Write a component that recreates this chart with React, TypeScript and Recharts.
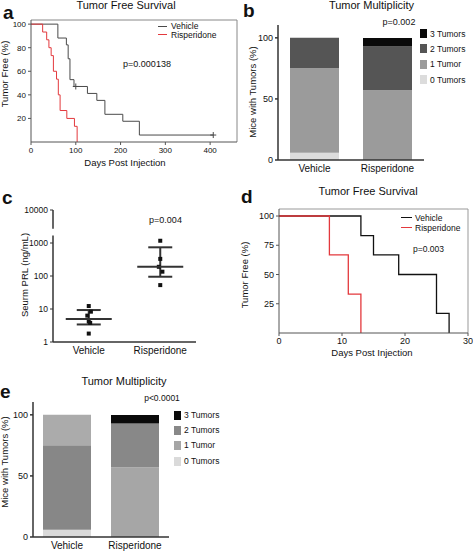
import React from 'react';
import {
  ComposedChart, BarChart, Bar, Cell, Line, Scatter, ErrorBar,
  XAxis, YAxis, ReferenceLine,
} from 'recharts';

const FONT = '"Liberation Sans", Arial, Helvetica, sans-serif';
const INK = '#111';
const RED = '#e3393d';

// --- panel a: tumor free survival (days) ---
const A_VEH_DAYS = [0, 60, 79, 83, 87, 96, 100, 126, 147, 165, 205, 242, 407];
const A_VEH_PCT = [100, 88.2, 82.4, 70.6, 52.9, 47.1, 47.1, 41.2, 35.3, 23.5, 17.6, 5.9, 5.9];
const A_VEH_CENSORED = [100, 407];
const A_RIS_DAYS = [0, 26, 35, 40, 45, 50, 57, 61, 65, 80, 97, 103];
const A_RIS_PCT = [100, 93.3, 86.7, 80, 73.3, 60, 53.3, 40, 26.7, 20, 13.3, 0];
const A_X_TICKS = [0, 100, 200, 300, 400];
const A_Y_TICKS = [20, 40, 60, 80, 100];

// --- panels b / e: tumor multiplicity (% of mice) ---
const GROUPS = ['Vehicle', 'Risperidone'];
const TUMORS_0 = [5.9, 0];
const TUMORS_1 = [69.1, 57.1];
const TUMORS_2 = [25, 35.7];
const TUMORS_3 = [0, 7.1];
const MULTI_TICKS = [0, 50, 100];

// --- panel c: serum PRL ---
const C_VEH_PRL = [12.3, 8.3, 6.3, 4.2, 3.8, 1.8];
const C_VEH_JIT = [1.0, 1.03, 0.98, 1.0, 1.02, 1.0];
const C_RIS_PRL = [1170, 330, 190, 135, 53];
const C_RIS_JIT = [1.0, 1.0, 0.98, 1.03, 1.0];
const C_MEAN = [5, 190];
const C_LOW = [3.4, 95];
const C_HIGH = [9.3, 740];
const C_Y_TICKS = [1, 10, 100, 1000, 10000];

// --- panel d: tumor free survival (days, short study) ---
const D_VEH_DAYS = [0, 13, 15, 19, 25, 27];
const D_VEH_PCT = [100, 83.3, 66.7, 50, 16.7, 0];
const D_RIS_DAYS = [0, 8, 11, 13];
const D_RIS_PCT = [100, 66.7, 33.3, 0];
const D_X_TICKS = [0, 10, 20, 30];
const D_Y_TICKS = [25, 50, 75, 100];

function Txt({ x, y, children, size = 10, align = 'center', weight = 400, rotate = false }: any) {
  const tx = align === 'center' ? '-50%' : align === 'right' ? '-100%' : '0';
  return (
    <div
      style={{
        position: 'absolute', left: x, top: y, whiteSpace: 'nowrap', fontSize: size,
        fontWeight: weight, color: '#111', lineHeight: 1,
        transform: `translate(${tx}, -50%)${rotate ? ' rotate(-90deg)' : ''}`,
      }}
    >
      {children}
    </div>
  );
}

function Pos({ x, y, children }: any) {
  return <div style={{ position: 'absolute', left: x, top: y }}>{children}</div>;
}

function censorDot(color: string) {
  return (p: any) => {
    if (!p.payload || !p.payload.c) return <g key={p.index} />;
    return (
      <path key={p.index} d={`M${p.cx - 3},${p.cy}h6M${p.cx},${p.cy - 3}v6`} stroke={color} strokeWidth={1} />
    );
  };
}

function SurvivalA() {
  const veh = A_VEH_DAYS.map((t, i) => ({ t, s: A_VEH_PCT[i], c: A_VEH_CENSORED.includes(t) }));
  const ris = A_RIS_DAYS.map((t, i) => ({ t, s: A_RIS_PCT[i] }));
  return (
    <ComposedChart width={240} height={175} margin={{ top: 20, right: 3, bottom: 0, left: 0 }}>
      <XAxis dataKey="t" type="number" domain={[0, 460]} ticks={A_X_TICKS} height={33} tickSize={3}
        tick={{ fontSize: 8, fill: INK }} stroke="#555" allowDataOverflow />
      <YAxis type="number" domain={[0, 103.5]} ticks={A_Y_TICKS} width={31} tickSize={3}
        tick={{ fontSize: 8, fill: INK }} stroke="#555" allowDataOverflow />
      <ReferenceLine y={103.5} stroke="#888" />
      <ReferenceLine x={460} stroke="#888" />
      <Line data={veh} dataKey="s" type="stepAfter" stroke="#4a4a4a" strokeWidth={1}
        dot={censorDot('#4a4a4a')} activeDot={false} isAnimationActive={false} />
      <Line data={ris} dataKey="s" type="stepAfter" stroke={RED} strokeWidth={1}
        dot={false} activeDot={false} isAnimationActive={false} />
    </ComposedChart>
  );
}

function SurvivalD() {
  const veh = D_VEH_DAYS.map((t, i) => ({ t, s: D_VEH_PCT[i] }));
  const ris = D_RIS_DAYS.map((t, i) => ({ t, s: D_RIS_PCT[i] }));
  return (
    <ComposedChart width={233} height={160} margin={{ top: 14, right: 5, bottom: 0, left: 0 }}>
      <XAxis dataKey="t" type="number" domain={[0, 30]} ticks={D_X_TICKS} height={22} tickSize={3}
        tick={{ fontSize: 9, fill: INK }} stroke="#555" allowDataOverflow />
      <YAxis type="number" domain={[0, 106]} ticks={D_Y_TICKS} width={39} tickSize={3}
        tick={{ fontSize: 9, fill: INK }} stroke="#555" allowDataOverflow />
      <ReferenceLine y={106} stroke="#999" />
      <ReferenceLine x={30} stroke="#999" />
      <Line data={veh} dataKey="s" type="stepAfter" stroke="#111" strokeWidth={1.3}
        dot={false} activeDot={false} isAnimationActive={false} />
      <Line data={ris} dataKey="s" type="stepAfter" stroke={RED} strokeWidth={1.3}
        dot={false} activeDot={false} isAnimationActive={false} />
    </ComposedChart>
  );
}

function Multiplicity({ fills, barSize, width, height, margin, yWidth, xHeight }: any) {
  const data = GROUPS.map((g, i) => ({
    g, t0: TUMORS_0[i], t1: TUMORS_1[i], t2: TUMORS_2[i], t3: TUMORS_3[i],
  }));
  const keys = ['t0', 't1', 't2', 't3'];
  return (
    <BarChart width={width} height={height} data={data} margin={margin} barSize={barSize}>
      <XAxis dataKey="g" tickLine={false} tickSize={3} height={xHeight}
        tick={{ fontSize: 10, fill: INK }} stroke="#333" strokeWidth={1.5} />
      <YAxis type="number" domain={[0, 110.5]} ticks={MULTI_TICKS} width={yWidth} tickSize={3}
        tick={{ fontSize: 9, fill: INK }} stroke="#333" strokeWidth={1.5} allowDataOverflow />
      {keys.map((k) => (
        <Bar key={k} dataKey={k} stackId="s" isAnimationActive={false}>
          {data.map((_, i) => <Cell key={i} fill={fills[k][i]} />)}
        </Bar>
      ))}
    </BarChart>
  );
}

function Prolactin() {
  const veh = C_VEH_PRL.map((y, i) => ({ x: C_VEH_JIT[i], y }));
  const ris = C_RIS_PRL.map((y, i) => ({ x: 1 + C_RIS_JIT[i], y }));
  const summary = C_MEAN.map((m, i) => ({ x: i + 1, y: m, err: [m - C_LOW[i], C_HIGH[i] - m] }));
  const square = (p: any) => <rect x={p.cx - 2} y={p.cy - 2} width={4} height={4} fill="#111" />;
  const meanLine = (p: any) => (
    <line x1={p.cx - 23} x2={p.cx + 23} y1={p.cy} y2={p.cy} stroke="#333" strokeWidth={2} />
  );
  return (
    <ComposedChart width={240} height={160} margin={{ top: 10, right: 44, bottom: 0, left: 0 }}>
      <XAxis dataKey="x" type="number" domain={[0.5, 2.5]} ticks={[1, 2]}
        tickFormatter={(v: number) => GROUPS[v - 1]} height={18} tickSize={3} tickLine={false}
        tick={{ fontSize: 10, fill: INK }} stroke="#333" strokeWidth={1.5} />
      <YAxis dataKey="y" type="number" scale="log" domain={[1, 10000]} ticks={C_Y_TICKS} width={53}
        tickSize={3} axisLine={false} tick={{ fontSize: 8.5, fill: INK }} stroke="#333" allowDataOverflow />
      <ReferenceLine segment={[{ x: 0.5, y: 1 }, { x: 0.5, y: 1700 }]} stroke="#333" strokeWidth={1.5} />
      <ReferenceLine segment={[{ x: 0.5, y: 2700 }, { x: 0.5, y: 10000 }]} stroke="#333" strokeWidth={1.5} />
      <Scatter data={veh} shape={square} isAnimationActive={false} />
      <Scatter data={ris} shape={square} isAnimationActive={false} />
      <Scatter data={summary} shape={meanLine} isAnimationActive={false}>
        <ErrorBar dataKey="err" direction="y" width={12} stroke="#333" strokeWidth={2} />
      </Scatter>
    </ComposedChart>
  );
}

function Swatch({ x, y, color, label }: any) {
  return (
    <>
      <div style={{ position: 'absolute', left: x, top: y - 4.5, width: 7, height: 9, background: color }} />
      <Txt x={x + 10} y={y} size={8.5} align="left">{label}</Txt>
    </>
  );
}

const B_FILLS = {
  t0: ['#dcdcdc', '#dcdcdc'],
  t1: ['#9b9b9b', '#9b9b9b'],
  t2: ['#555555', '#555555'],
  t3: ['#0a0a0a', '#0a0a0a'],
};
const E_FILLS = {
  t0: ['#dadada', '#dadada'],
  t1: ['#878787', '#a6a6a6'],
  t2: ['#ababab', '#888888'],
  t3: ['#0a0a0a', '#0a0a0a'],
};

export default function App() {
  return (
    <div style={{ position: 'absolute', left: 0, top: 0, width: 473, height: 551, background: '#fff', fontFamily: FONT, overflow: 'hidden' }}>
      {/* a */}
      <Pos x={0} y={0}><SurvivalA /></Pos>
      <Txt x={3} y={12} size={19} weight={700} align="left">a</Txt>
      <Txt x={126} y={5} size={11}>Tumor Free Survival</Txt>
      <Txt x={5} y={74} size={9.5} rotate>Tumor Free (%)</Txt>
      <Txt x={125} y={163} size={9.5}>Days Post Injection</Txt>
      <div style={{ position: 'absolute', left: 158, top: 25.5, width: 9, height: 1, background: '#4a4a4a' }} />
      <div style={{ position: 'absolute', left: 158, top: 34, width: 9, height: 1, background: RED }} />
      <Txt x={171} y={26} size={8.5} align="left">Vehicle</Txt>
      <Txt x={171} y={34.5} size={8.5} align="left">Risperidone</Txt>
      <Txt x={147} y={63.5} size={9}>p=0.000138</Txt>

      {/* b */}
      <Pos x={240} y={0}>
        <Multiplicity fills={B_FILLS} barSize={49} width={233} height={180} xHeight={20}
          margin={{ top: 25, right: 49, bottom: 0, left: 0 }} yWidth={38} />
      </Pos>
      <Txt x={243} y={10} size={19} weight={700} align="left">b</Txt>
      <Txt x={371.5} y={5} size={11}>Tumor Multiplicity</Txt>
      <Txt x={253} y={92} size={9.5} rotate>Mice with Tumors (%)</Txt>
      <Txt x={399} y={22} size={9}>p=0.002</Txt>
      <Swatch x={420} y={33.5} color="#0a0a0a" label="3 Tumors" />
      <Swatch x={420} y={48.5} color="#555555" label="2 Tumors" />
      <Swatch x={420} y={64} color="#9b9b9b" label="1 Tumor" />
      <Swatch x={420} y={79.5} color="#dcdcdc" label="0 Tumors" />

      {/* c */}
      <Pos x={0} y={200}><Prolactin /></Pos>
      <Txt x={2} y={197} size={19} weight={700} align="left">c</Txt>
      <Txt x={25} y={275} size={9.5} rotate>Seurm PRL (ng/mL)</Txt>
      <Txt x={165.5} y={219.5} size={9}>p=0.004</Txt>

      {/* d */}
      <Pos x={240} y={195}><SurvivalD /></Pos>
      <Txt x={241} y={196} size={19} weight={700} align="left">d</Txt>
      <Txt x={368} y={191} size={11}>Tumor Free Survival</Txt>
      <Txt x={245} y={275} size={9.5} rotate>Tumor Free (%)</Txt>
      <Txt x={372} y={353} size={9.5}>Days Post Injection</Txt>
      <div style={{ position: 'absolute', left: 401, top: 217, width: 11, height: 1.3, background: '#111' }} />
      <div style={{ position: 'absolute', left: 401, top: 227, width: 11, height: 1.3, background: RED }} />
      <Txt x={415} y={217.5} size={8.5} align="left">Vehicle</Txt>
      <Txt x={415} y={227.5} size={8.5} align="left">Risperidone</Txt>
      <Txt x={428.5} y={248.5} size={8.5}>p=0.003</Txt>

      {/* e */}
      <Pos x={0} y={390}>
        <Multiplicity fills={E_FILLS} barSize={48} width={240} height={161} xHeight={14}
          margin={{ top: 12, right: 71, bottom: 0, left: 0 }} yWidth={33} />
      </Pos>
      <Txt x={0} y={391} size={19} weight={700} align="left">e</Txt>
      <Txt x={124} y={381} size={11}>Tumor Multiplicity</Txt>
      <Txt x={5} y={462} size={9.5} rotate>Mice with Tumors (%)</Txt>
      <Txt x={162} y={398} size={8.5}>p&lt;0.0001</Txt>
      <Swatch x={174} y={415} color="#0a0a0a" label="3 Tumors" />
      <Swatch x={174} y={430} color="#888888" label="2 Tumors" />
      <Swatch x={174} y={445} color="#a6a6a6" label="1 Tumor" />
      <Swatch x={174} y={461} color="#dadada" label="0 Tumors" />
    </div>
  );
}
